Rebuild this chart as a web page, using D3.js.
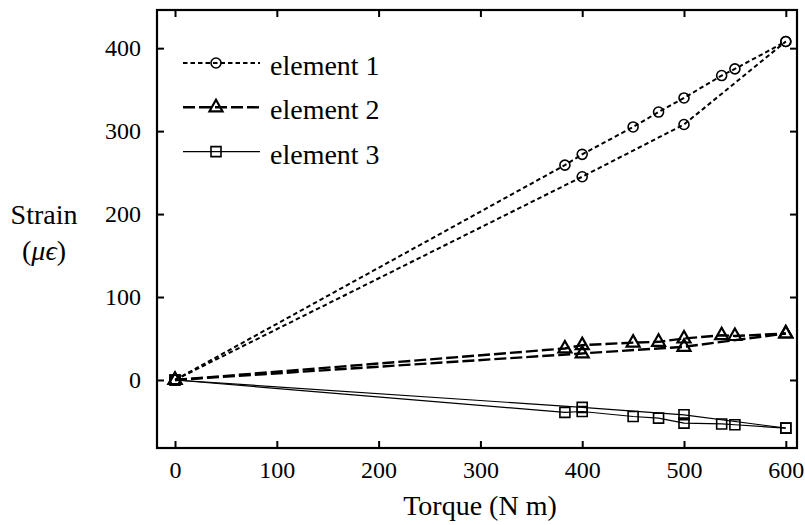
<!DOCTYPE html>
<html>
<head>
<meta charset="utf-8">
<script src="https://cdn.jsdelivr.net/npm/d3@7"></script>
<style>
    body { margin: 0; background: #fff; }
</style>
</head>
<body>
<div id="chart"></div>
<script>
// torque values (N m) for the two runs
const torqueA = [0, 383, 400, 450, 475, 500, 537, 550, 600];
const torqueB = [0, 400, 500, 600];

// strain (micro-strain) per element
const element1A = [0, 259, 272, 305, 323, 340, 367, 375, 408];
const element1B = [0, 245, 308, 408];
const element2A = [0, 38, 42, 45, 46, 50, 54, 53, 56];
const element2B = [0, 32, 40, 56];
const element3A = [0, -39, -38, -44, -46, -52, -53, -54, -58];
const element3B = [0, -33, -42, -58];

const xTicks = [0, 100, 200, 300, 400, 500, 600];
const yTicks = [0, 100, 200, 300, 400];
const legendLabels = ["element 1", "element 2", "element 3"];

const fontName = "Liberation Serif";

let margin = {top: 10, right: 8, bottom: 77, left: 157};
let width = 805 - margin.left - margin.right;
let height = 525 - margin.top - margin.bottom;

let svg = d3.select("#chart").append("svg")
    .attr("width", 805)
    .attr("height", 525)
    .attr("font-family", fontName)
    .append("g")
    .attr("transform", `translate(${margin.left},${margin.top})`);

let x = d3.scaleLinear().domain([-17.7, 611]).range([0, width]);
let y = d3.scaleLinear().domain([-82, 446]).range([height, 0]);

// series styles: dash pattern, stroke width, marker
let styles = [
    {dash: "4.5,3", sw: 2, marker: "circle"},
    {dash: "12,4", sw: 2.4, marker: "triangle"},
    {dash: null, sw: 1.2, marker: "square"}
];

let series = [
    {style: 0, xs: torqueA, ys: element1A},
    {style: 0, xs: torqueB, ys: element1B},
    {style: 1, xs: torqueA, ys: element2A},
    {style: 1, xs: torqueB, ys: element2B},
    {style: 2, xs: torqueA, ys: element3A},
    {style: 2, xs: torqueB, ys: element3B}
];

function markerPath(type) {
    if (type === "circle") return d3.symbol(d3.symbolCircle, Math.PI * 25)();
    if (type === "square") return "M-5,-5H5V5H-5Z";
    return "M0,-7.5L6.5,4H-6.5Z";
}

// axes, ticks inward on all four sides
let xAxis = d3.axisBottom(x).tickValues(xTicks).tickSizeInner(-7).tickSizeOuter(0).tickPadding(13);
let yAxis = d3.axisLeft(y).tickValues(yTicks).tickSizeInner(-7).tickSizeOuter(0).tickPadding(16);

svg.append("g").attr("transform", `translate(0,${height})`).call(xAxis);
svg.append("g").call(yAxis);
svg.append("g").call(d3.axisTop(x).tickValues(xTicks).tickSizeInner(-7).tickSizeOuter(0).tickFormat(""));
svg.append("g").attr("transform", `translate(${width},0)`)
    .call(d3.axisRight(y).tickValues(yTicks).tickSizeInner(-7).tickSizeOuter(0).tickFormat(""));

svg.selectAll(".domain").remove();
svg.selectAll(".tick line").attr("stroke", "#000").attr("stroke-width", 2);
svg.selectAll("g").attr("font-family", fontName).attr("font-size", 24);
svg.selectAll(".tick text").attr("fill", "#000");

svg.append("rect")
    .attr("width", width)
    .attr("height", height)
    .attr("fill", "none")
    .attr("stroke", "#000")
    .attr("stroke-width", 2.2);

// lines
let line = d3.line().x(d => x(d[0])).y(d => y(d[1]));

series.forEach(s => {
    let st = styles[s.style];
    let pts = s.xs.map((t, i) => [t, s.ys[i]]);
    svg.append("path")
        .datum(pts)
        .attr("d", line)
        .attr("fill", "none")
        .attr("stroke", "#000")
        .attr("stroke-width", st.sw)
        .attr("stroke-dasharray", st.dash);
    svg.selectAll(null)
        .data(pts)
        .enter()
        .append("path")
        .attr("d", markerPath(st.marker))
        .attr("transform", d => `translate(${x(d[0])},${y(d[1])})`)
        .attr("fill", "none")
        .attr("stroke", "#000")
        .attr("stroke-width", st.marker === "triangle" ? 2.2 : 1.6);
});

// legend
let legend = svg.append("g").attr("transform", "translate(26,53)");
legendLabels.forEach((lab, i) => {
    let st = styles[i];
    let g = legend.append("g").attr("transform", `translate(0,${i * 44.3})`);
    g.append("line")
        .attr("x1", 0).attr("x2", 77)
        .attr("stroke", "#000")
        .attr("stroke-width", st.sw)
        .attr("stroke-dasharray", st.dash);
    g.append("path")
        .attr("d", markerPath(st.marker))
        .attr("transform", "translate(33,0)")
        .attr("fill", "none")
        .attr("stroke", "#000")
        .attr("stroke-width", st.marker === "triangle" ? 2.2 : 1.6);
    g.append("text")
        .attr("x", 87)
        .attr("y", 12)
        .attr("font-family", fontName)
        .attr("font-size", 28)
        .text(lab);
});

// axis titles
svg.append("text")
    .attr("x", 480 - margin.left)
    .attr("y", height + 67)
    .attr("text-anchor", "middle")
    .attr("font-family", fontName)
    .attr("font-size", 28)
    .text("Torque (N m)");

svg.append("text")
    .attr("x", 44 - margin.left)
    .attr("y", 214)
    .attr("text-anchor", "middle")
    .attr("font-family", fontName)
    .attr("font-size", 28)
    .text("Strain");

let unit = svg.append("text")
    .attr("x", 44 - margin.left)
    .attr("y", 250)
    .attr("text-anchor", "middle")
    .attr("font-family", fontName)
    .attr("font-size", 28);
unit.append("tspan").text("(");
unit.append("tspan").attr("font-style", "italic").text("μϵ");
unit.append("tspan").text(")");
</script>
</body>
</html>
